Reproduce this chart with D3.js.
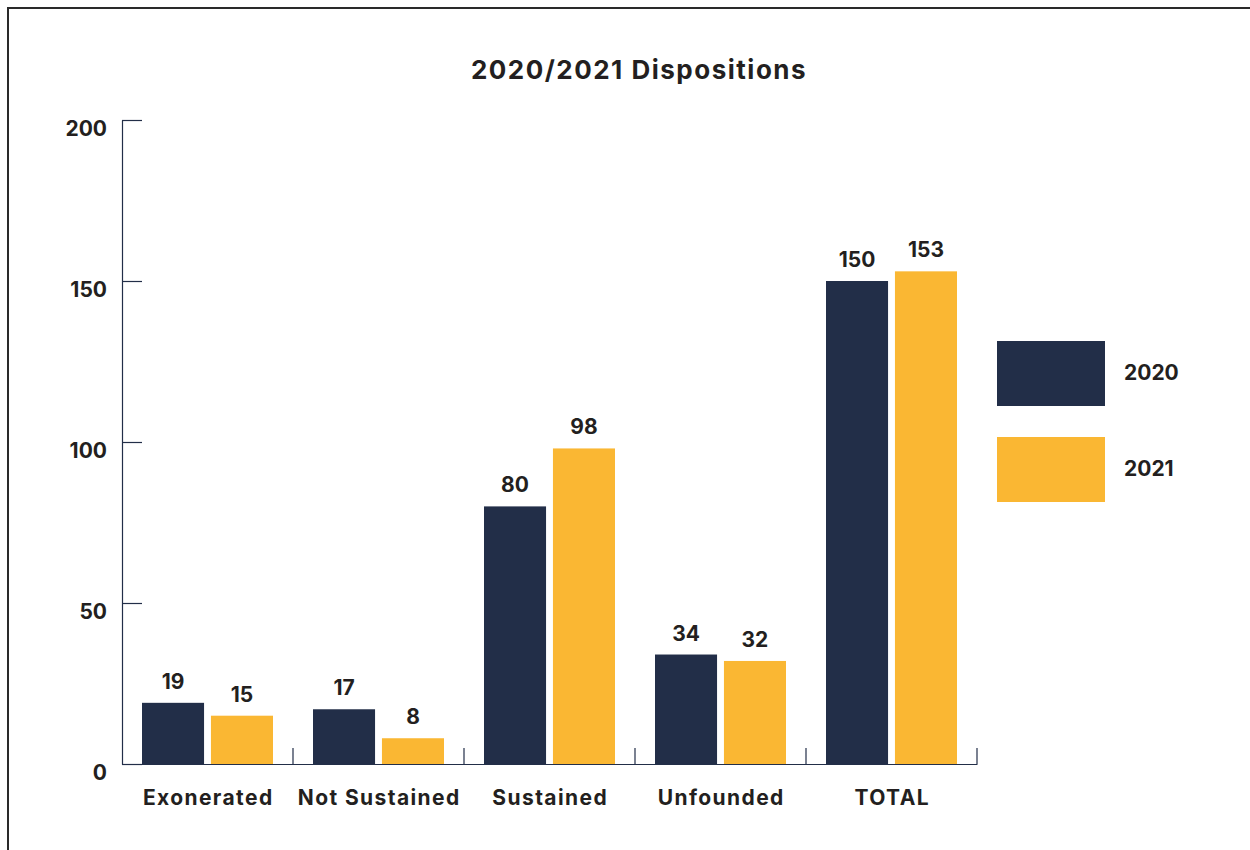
<!DOCTYPE html>
<html>
<head>
<meta charset="utf-8">
<script src="https://cdn.jsdelivr.net/npm/d3@7/dist/d3.min.js"></script>
<style>
  html, body { margin: 0; padding: 0; background: #fff; }
  svg { display: block; }
  text { font-family: Inter, "Open Sans", sans-serif; font-weight: 700; fill: #231f20; }
</style>
</head>
<body>
<svg id="chart" width="1250" height="850"></svg>
<script>
// Disposition counts by category and year
const categories = ["Exonerated", "Not Sustained", "Sustained", "Unfounded", "TOTAL"];
const seriesNames = ["2020", "2021"];
const values2020 = [19, 17, 80, 34, 150];
const values2021 = [15, 8, 98, 32, 153];
const yTicks = [0, 50, 100, 150, 200];
const chartTitle = "2020/2021 Dispositions";

const colors = { "2020": "#222e48", "2021": "#fab733" };
const axisColor = "#222e48";

const rows = categories.map((c, i) => ({
  category: c,
  values: [
    { key: "2020", value: values2020[i] },
    { key: "2021", value: values2021[i] }
  ]
}));

const svg = d3.select("#chart");

// frame along the top and left edges
svg.append("path")
  .attr("d", "M8,850 L8,8 L1250,8")
  .attr("fill", "none")
  .attr("stroke", "#2a2a2a")
  .attr("stroke-width", 2);

const plotLeft = 122, plotRight = 977, plotTop = 120, plotBottom = 764;

const x = d3.scaleBand().domain(categories).range([plotLeft, plotRight]).padding(0);
const xInner = d3.scaleBand().domain(seriesNames)
  .range([20, x.bandwidth() - 20]).paddingInner(0.1).paddingOuter(0);
const y = d3.scaleLinear().domain([0, 200]).range([plotBottom, plotTop]);

// title
svg.append("text")
  .attr("x", 639)
  .attr("y", 79)
  .attr("text-anchor", "middle")
  .style("font-size", "26px")
  .style("letter-spacing", "1.5px")
  .text(chartTitle);

// bars
const groups = svg.append("g").selectAll("g")
  .data(rows)
  .join("g")
  .attr("transform", d => `translate(${x(d.category)},0)`);

groups.selectAll("rect")
  .data(d => d.values)
  .join("rect")
  .attr("x", d => xInner(d.key))
  .attr("y", d => y(d.value))
  .attr("width", xInner.bandwidth())
  .attr("height", d => y(0) - y(d.value))
  .attr("fill", d => colors[d.key]);

groups.selectAll("text.val")
  .data(d => d.values)
  .join("text")
  .attr("class", "val")
  .attr("x", d => xInner(d.key) + xInner.bandwidth() / 2)
  .attr("y", d => y(d.value) - 14)
  .attr("text-anchor", "middle")
  .style("font-size", "21px")
  .text(d => d.value);

// y axis: ticks point inward into the plot
const yAxis = d3.axisLeft(y)
  .tickValues(yTicks)
  .tickSizeInner(-20)
  .tickSizeOuter(0)
  .tickPadding(15)
  .tickFormat(d3.format("d"));

const gy = svg.append("g")
  .attr("transform", `translate(${plotLeft},0)`)
  .call(yAxis);
gy.select(".domain").attr("stroke", axisColor).attr("stroke-width", 1.2);
gy.selectAll(".tick line").attr("stroke", axisColor).attr("stroke-width", 1.2);
gy.selectAll(".tick text")
  .attr("dy", "0.75em")
  .style("font-size", "21px")
  .style("font-family", "Inter, 'Open Sans', sans-serif")
  .style("font-weight", 700)
  .attr("fill", "#231f20");

// x axis: labels at band centres, separators between categories
const xAxis = d3.axisBottom(x).tickSize(0).tickPadding(26);
const gx = svg.append("g")
  .attr("transform", `translate(0,${plotBottom})`)
  .call(xAxis);
gx.select(".domain").attr("stroke", axisColor).attr("stroke-width", 1.2);
gx.selectAll(".tick text")
  .attr("dx", "0.7px")
  .style("font-size", "21px")
  .style("letter-spacing", "1.4px")
  .style("font-family", "Inter, 'Open Sans', sans-serif")
  .style("font-weight", 700)
  .attr("fill", "#231f20");

gx.selectAll("line.sep")
  .data(categories)
  .join("line")
  .attr("class", "sep")
  .attr("x1", d => x(d) + x.bandwidth())
  .attr("x2", d => x(d) + x.bandwidth())
  .attr("y1", 0)
  .attr("y2", -16)
  .attr("stroke", axisColor)
  .attr("stroke-width", 1.2);

// legend
const legend = svg.append("g").attr("transform", "translate(997,341)");
const legendItems = legend.selectAll("g")
  .data(seriesNames)
  .join("g")
  .attr("transform", (d, i) => `translate(0,${i * 96})`);
legendItems.append("rect")
  .attr("width", 108)
  .attr("height", 65)
  .attr("fill", d => colors[d]);
legendItems.append("text")
  .attr("x", 127)
  .attr("y", 39)
  .style("font-size", "21px")
  .text(d => d);
</script>
</body>
</html>
